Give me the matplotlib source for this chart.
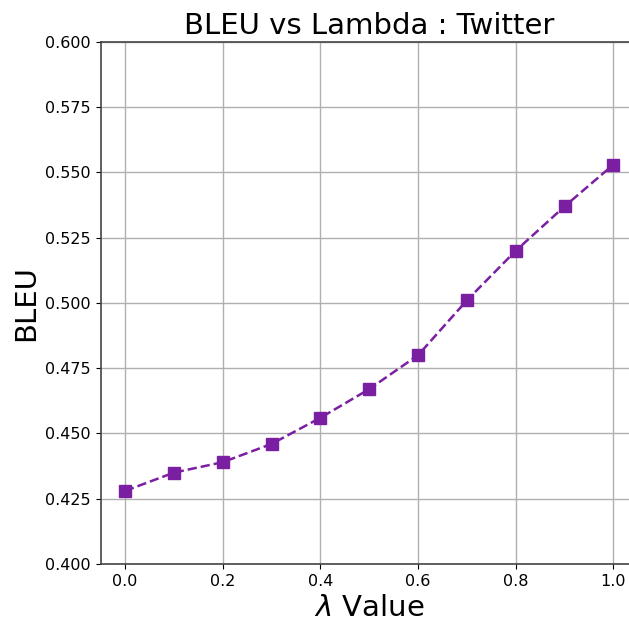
import matplotlib
matplotlib.use("Agg")
import matplotlib.pyplot as plt

# lambda values and BLEU scores
lambdas = [0.0, 0.1, 0.2, 0.3, 0.4, 0.5, 0.6, 0.7, 0.8, 0.9, 1.0]
bleu = [0.428, 0.435, 0.439, 0.446, 0.456, 0.467, 0.480, 0.501, 0.520, 0.537, 0.553]

fig = plt.figure(figsize=(6.29, 6.23), dpi=100)
# axes runs off the right edge of the figure, like the reference crop
ax = fig.add_axes([0.160, 0.0947, 0.854, 0.838])

ax.plot(lambdas, bleu, '--s', color='#7b1fa2', linewidth=1.8, markersize=8)

ax.set_ylim(0.400, 0.600)
ax.set_yticks([0.400, 0.425, 0.450, 0.475, 0.500, 0.525, 0.550, 0.575, 0.600])
ax.set_xticks([0.0, 0.2, 0.4, 0.6, 0.8, 1.0])
ax.tick_params(labelsize=11.5)
ax.grid(True, color='#b0b0b0', linewidth=1.0)
ax.set_axisbelow(True)
for side in ax.spines.values():
    side.set_color('#444444')
    side.set_linewidth(1.2)

ax.set_title("BLEU vs Lambda : Twitter", fontsize=21)
ax.set_xlabel(r"$\lambda$ Value", fontsize=21)
ax.set_ylabel("BLEU", fontsize=21)

fig.savefig("out.png", dpi=100)
